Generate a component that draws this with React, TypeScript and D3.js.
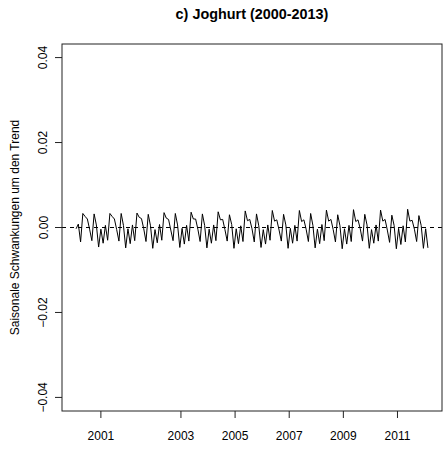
import React from 'react';
import * as d3 from 'd3';

const width = 445;
const height = 450;

const title = 'c) Joghurt (2000-2013)';
const yTitle = 'Saisonale Schwankungen um den Trend';

// seasonal component, values x 1e-3, one row per cycle (first three months before the first cycle)
const head = [-0.3, 0.8, -3.4];
const y2000 = [3.3, 2.6, 2.0, -0.4, -3.1, 3.2, 0.6, -4.6, -0.4, -3.7, 0.5, -3.0];
const y2001 = [3.3, 2.6, 2.0, -0.5, -3.2, 3.3, 0.5, -4.8, -0.3, -3.8, 0.6, -3.1];
const y2002 = [3.4, 2.4, 2.1, -0.3, -3.3, 3.1, 0.4, -4.9, -0.5, -3.6, 0.7, -3.0];
const y2003 = [3.5, 2.2, 1.9, -0.6, -3.1, 3.3, 0.6, -4.7, -0.2, -3.9, 0.5, -3.2];
const y2004 = [3.6, 2.0, 2.0, -0.4, -3.3, 3.2, 0.5, -4.8, -0.4, -3.7, 0.6, -3.1];
const y2005 = [3.7, 1.8, 1.9, -0.5, -3.2, 3.0, 0.7, -4.9, -0.3, -3.8, 0.4, -3.3];
const y2006 = [3.9, 1.6, 1.9, -0.3, -3.4, 3.2, 0.4, -4.7, -0.5, -3.9, 0.6, -3.0];
const y2007 = [4.0, 1.5, 1.8, -0.6, -3.2, 3.1, 0.6, -4.9, -0.2, -3.7, 0.5, -3.2];
const y2008 = [4.0, 1.4, 1.8, -0.4, -3.3, 3.3, 0.5, -4.8, -0.4, -3.8, 0.7, -3.1];
const y2009 = [4.1, 1.5, 1.9, -0.5, -3.4, 3.0, 0.4, -5.0, -0.3, -3.9, 0.5, -3.3];
const y2010 = [4.2, 1.4, 1.8, -0.3, -3.2, 3.1, 0.6, -4.9, -0.5, -3.7, 0.6, -3.2];
const y2011 = [4.1, 1.5, 1.9, -0.6, -3.5, 2.9, 0.5, -5.0, -0.2, -4.0, 0.4, -3.4];
const y2012 = [4.3, 1.5, 1.7, -0.4, -3.3, 2.8, 0.5, -4.9, -0.3, -4.8];

const seasonal = [
  ...head, ...y2000, ...y2001, ...y2002, ...y2003, ...y2004, ...y2005, ...y2006,
  ...y2007, ...y2008, ...y2009, ...y2010, ...y2011, ...y2012,
].map(v => v / 1000);

// x tick positions in month index
const xTickAt = [11, 46.5, 70.5, 94.5, 118.5, 142.5];
const xTickLabels = ['2001', '2003', '2005', '2007', '2009', '2011'];
const yTicks = [-0.04, -0.02, 0, 0.02, 0.04];

const left = 62;
const right = 442;
const top = 44;
const bottom = 411;
const font = '"Liberation Sans", Arial, Helvetica, sans-serif';

const App = () => {
  const n = seasonal.length - 1;
  const x = d3.scaleLinear().domain([-0.04 * n, n * 1.04]).range([left, right]);
  const y = d3.scaleLinear().domain([-0.0432, 0.0432]).range([bottom, top]);

  const line = d3.line<number>()
    .x((d, i) => x(i))
    .y(d => y(d));

  return (
    <svg width={width} height={height} style={{ position: 'absolute', left: 0, top: 0, background: '#fff' }}
      fontFamily={font}>
      <text x={(left + right) / 2} y={19} textAnchor="middle" fontSize={14.4} fontWeight="bold">{title}</text>

      <line x1={left} x2={right} y1={y(0)} y2={y(0)} stroke="#000" strokeDasharray="4,4" />
      <path d={line(seasonal) || ''} fill="none" stroke="#000" strokeWidth={1} />

      <rect x={left} y={top} width={right - left} height={bottom - top} fill="none" stroke="#222" />

      {xTickAt.map((t, i) => (
        <g key={i}>
          <line x1={x(t)} x2={x(t)} y1={bottom} y2={bottom + 7} stroke="#222" />
          <text x={x(t)} y={440} textAnchor="middle" fontSize={12}>{xTickLabels[i]}</text>
        </g>
      ))}

      {yTicks.map(t => (
        <g key={t}>
          <line x1={left - 7} x2={left} y1={y(t)} y2={y(t)} stroke="#222" />
          <text x={47.5} y={y(t)} textAnchor="middle" fontSize={12}
            transform={`rotate(-90, 47.5, ${y(t)})`}>{d3.format('.2f')(t)}</text>
        </g>
      ))}

      <text x={19} y={(top + bottom) / 2} textAnchor="middle" fontSize={12}
        transform={`rotate(-90, 19, ${(top + bottom) / 2})`}>{yTitle}</text>
    </svg>
  );
};

export default App;
